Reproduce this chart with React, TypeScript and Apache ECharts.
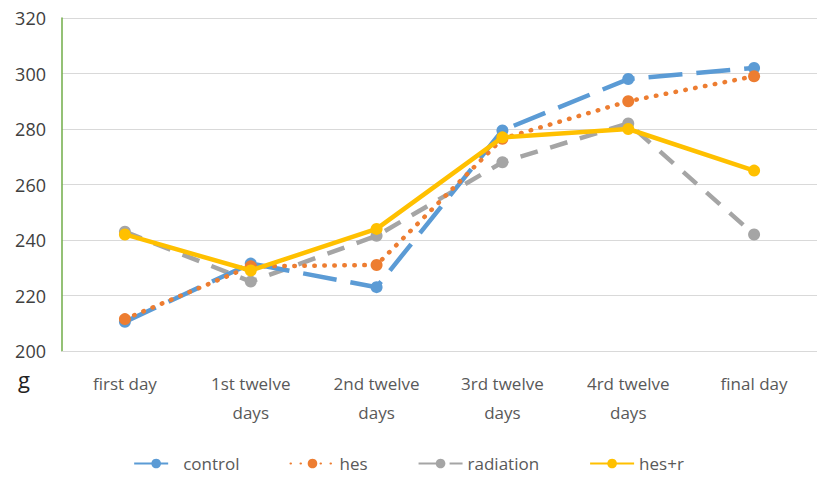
import React, { useEffect, useRef } from "react";
import * as echarts from "echarts";

const categories = ["first day", "1st twelve\ndays", "2nd twelve\ndays", "3rd twelve\ndays", "4rd twelve\ndays", "final day"];
const control = [210.5, 231.5, 223, 279.5, 298, 302];
const hes = [211.5, 230.5, 231, 276.5, 290, 299];
const radiation = [243, 225, 241.5, 268, 282, 242];
const hesR = [242, 229, 244, 277, 280, 265];
const yTicks = { min: 200, max: 320, interval: 20 };

const FONT = "'Liberation Sans Narrow', 'Open Sans', sans-serif";

export default function App() {
  const ref = useRef<HTMLDivElement>(null);
  useEffect(() => {
    const chart = echarts.init(ref.current!, undefined, { renderer: "svg" });
    const mk = (name: string, data: number[], color: string, type: any, cap: string, z: number) => ({
      name,
      type: "line",
      data,
      symbol: "circle",
      symbolSize: 12,
      z,
      itemStyle: { color },
      lineStyle: { color, width: 4.5, type, cap },
    });
    chart.setOption({
      animation: false,
      textStyle: { fontFamily: FONT },
      grid: { left: 62, right: 0, top: 18, bottom: 128 },
      xAxis: {
        type: "category",
        data: categories,
        boundaryGap: true,
        axisLine: { show: true, lineStyle: { color: "#d9d9d9", width: 1 } },
        axisTick: { show: false },
        axisLabel: { color: "#595959", fontSize: 17, fontFamily: FONT, margin: 18, lineHeight: 29 },
      },
      yAxis: {
        type: "value",
        min: yTicks.min,
        max: yTicks.max,
        interval: yTicks.interval,
        axisLine: { show: true, lineStyle: { color: "#70AD47", width: 1.5 } },
        axisTick: { show: false },
        splitLine: { lineStyle: { color: "#d9d9d9", width: 1 } },
        axisLabel: { color: "#404040", fontSize: 18, fontFamily: FONT, margin: 16 },
      },
      legend: {
        bottom: 2,
        left: "center",
        itemWidth: 44,
        itemHeight: 12,
        itemGap: 50,
        textStyle: { color: "#595959", fontSize: 17, fontFamily: FONT },
        data: ["control", "hes", "radiation", "hes+r"],
      },
      graphic: [
        {
          type: "text",
          left: 18,
          top: 368,
          style: { text: "g", fontSize: 22, fontFamily: FONT, fill: "#222" },
        },
      ],
      series: [
        mk("control", control, "#5B9BD5", [34, 14], "butt", 2),
        mk("hes", hes, "#ED7D31", [0.5, 9.5], "round", 3),
        mk("radiation", radiation, "#A5A5A5", [18, 13], "butt", 1),
        mk("hes+r", hesR, "#FFC000", "solid", "butt", 4),
      ],
    });
    return () => chart.dispose();
  }, []);
  return <div ref={ref} style={{ width: 817, height: 479, position: "absolute", left: 0, top: 0 }} />;
}
